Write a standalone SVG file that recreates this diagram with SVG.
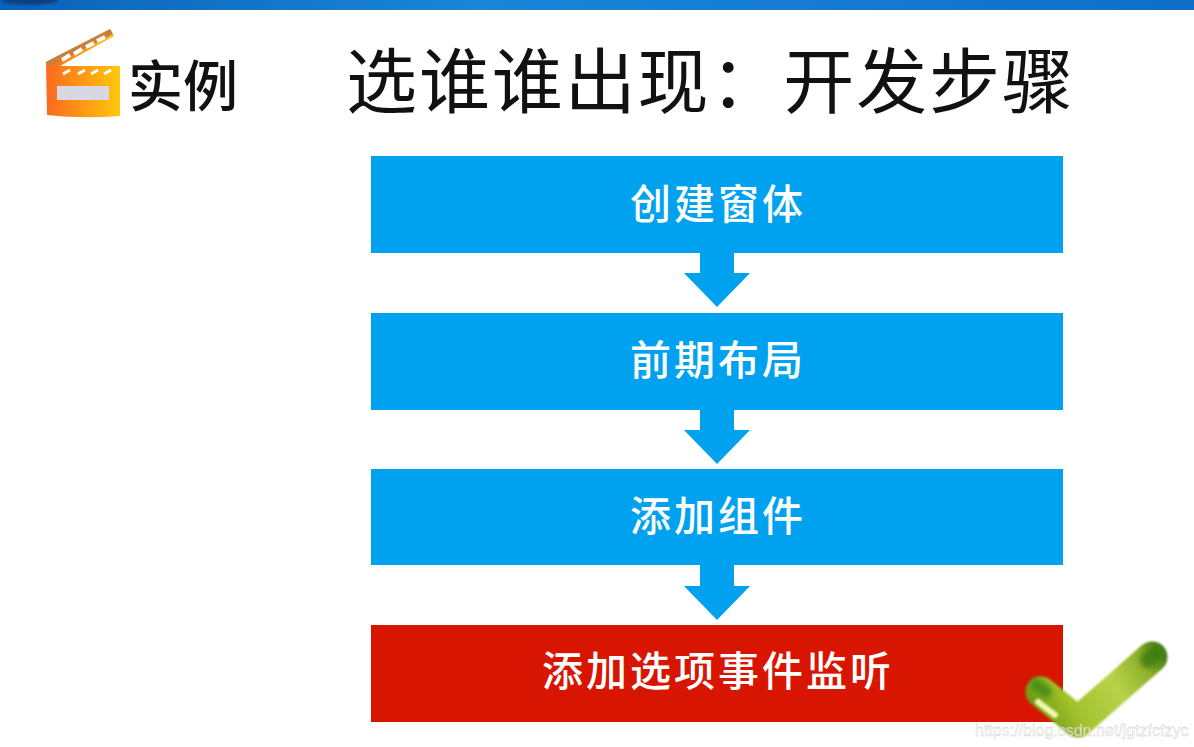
<svg xmlns="http://www.w3.org/2000/svg" width="1194" height="747" viewBox="0 0 1194 747">
<style>
.cjk{font-family:"Noto Sans CJK SC","Liberation Sans",sans-serif}
.box{font-size:41px;font-weight:500;fill:#fff;text-anchor:middle;letter-spacing:3px}
.blue{fill:#00a2f0}
</style>
<defs>
<linearGradient id="top" x1="0" x2="1" y1="0" y2="0"><stop offset="0" stop-color="#0a62b8"/><stop offset="0.4" stop-color="#1a86d8"/><stop offset="1" stop-color="#0f6fc8"/></linearGradient>
<linearGradient id="clap" x1="0" x2="1" y1="0" y2="0"><stop offset="0" stop-color="#fb6a1e"/><stop offset="1" stop-color="#fec80a"/></linearGradient>
<linearGradient id="chk" gradientUnits="userSpaceOnUse" x1="1040" y1="720" x2="1160" y2="650"><stop offset="0" stop-color="#6d9a14"/><stop offset="0.25" stop-color="#a3c22c"/><stop offset="0.6" stop-color="#b8d24a"/><stop offset="0.85" stop-color="#8db02a"/><stop offset="1" stop-color="#4a8214"/></linearGradient>
<filter id="soft" filterUnits="userSpaceOnUse" x="0" y="0" width="1194" height="747"><feGaussianBlur stdDeviation="1.2"/></filter>
<filter id="soft2" filterUnits="userSpaceOnUse" x="0" y="0" width="1194" height="747"><feGaussianBlur stdDeviation="2.5"/></filter>
</defs>
<rect width="1194" height="747" fill="#fff"/>
<rect id="topbar" width="1194" height="10" fill="url(#top)"/>
<ellipse cx="30" cy="0" rx="28" ry="5" fill="#0a3f80" filter="url(#soft)"/>
<g id="icon">
<path d="M46 62 L110 29 L114 36 L60 66 L120 66 L120 116 Q80 119 47 115 Z" fill="url(#clap)"/>
<path d="M46 62 L110 29 L113 34 L50 66 Z" fill="#c9803a"/>
<path d="M62 60 L70 55 M74 54 L82 49 M86 47 L94 43 M97 41 L105 37" stroke="#fff" stroke-width="4"/>
<path d="M63 74 L70 70 M78 74 L85 70 M91 74 L98 70 M104 74 L111 70" stroke="#fff" stroke-width="3"/>
<rect x="57" y="86" width="52" height="14" fill="#d8d8e4"/>
</g>
<text id="icon-label" class="cjk" x="128" y="106" font-size="55" font-weight="500" fill="#111">实例</text>
<text id="title" x="346" y="107" font-size="71" fill="#111" font-family="'Noto Sans CJK SC',sans-serif" font-weight="400" textLength="727">选谁谁出现：开发步骤</text>
<g id="connectors">
<path class="blue" d="M700 252 H734 V273 H750 L717 307 L684 273 H700 Z"/>
<path class="blue" d="M700 409 H734 V430 H750 L717 464 L684 430 H700 Z"/>
<path class="blue" d="M700 565 H734 V586 H750 L717 620 L684 586 H700 Z"/>
</g>
<g id="step1"><rect class="blue" x="371" y="156" width="692" height="97"/><text class="cjk box" x="718" y="219">创建窗体</text></g>
<g id="step2"><rect class="blue" x="371" y="313" width="692" height="97"/><text class="cjk box" x="718" y="375">前期布局</text></g>
<g id="step3"><rect class="blue" x="371" y="469" width="692" height="96"/><text class="cjk box" x="718" y="531">添加组件</text></g>
<g id="step4"><rect x="371" y="625" width="692" height="97" fill="#d81500"/><text class="cjk box" x="718" y="686">添加选项事件监听</text></g>
<g id="check">
<path d="M1041 692 L1078 722 L1152 657" fill="none" stroke="url(#chk)" stroke-width="31" stroke-linecap="round" stroke-linejoin="round" filter="url(#soft)"/>
<path d="M1036 684 L1046 692" stroke="#3f8a14" stroke-width="12" stroke-linecap="round" opacity="0.8" filter="url(#soft2)"/>
<path d="M1148 660 L1155 654" stroke="#3a7a10" stroke-width="16" stroke-linecap="round" opacity="0.8" filter="url(#soft2)"/>
<path d="M1038 702 L1055 715" stroke="#eef6b0" stroke-width="6" stroke-linecap="round" fill="none" filter="url(#soft)"/>
</g>
<text id="watermark" x="975" y="736" font-size="16" fill="#fff" fill-opacity="0.7" stroke="#bbb" stroke-width="0.3" font-family="'Liberation Sans',sans-serif">https://blog.csdn.net/jgtzfcfzyc</text>
</svg>
